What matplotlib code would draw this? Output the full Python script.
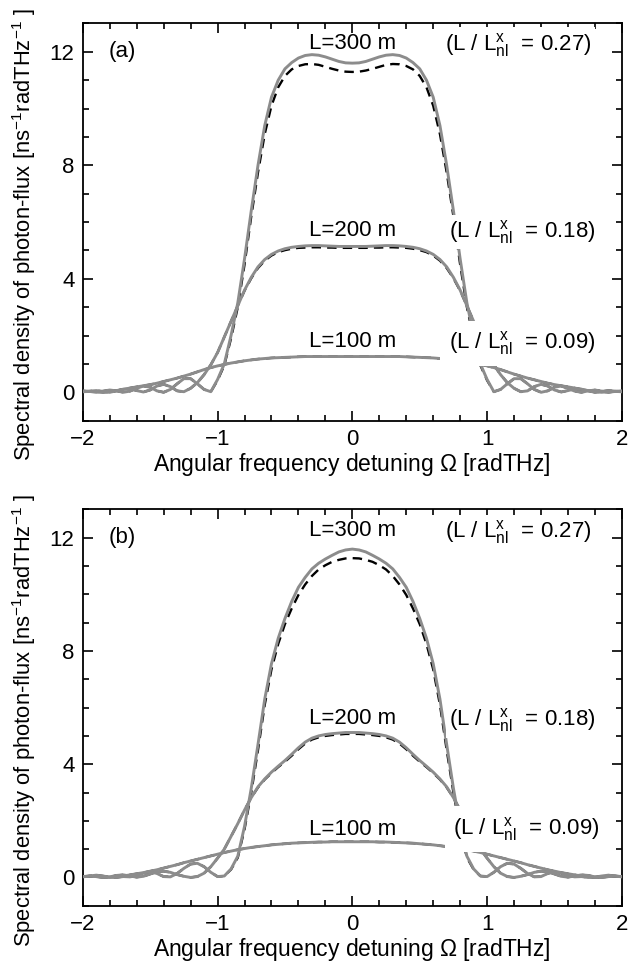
import numpy as np
import matplotlib.pyplot as plt
from matplotlib.ticker import MultipleLocator

plt.rcParams['font.family'] = ['Liberation Sans', 'DejaVu Sans']
plt.rcParams['mathtext.default'] = 'regular'

# angular frequency detuning grid [radTHz], step 0.05
omega = np.round(np.linspace(-2.0, 2.0, 81), 2)

# ---- panel (a) ----
a_300 = [0.05, 0.03, 0.00, 0.04, 0.08, 0.05, 0.00, 0.04, 0.14, 0.22,
         0.18, 0.05, 0.00, 0.10, 0.30, 0.48, 0.48, 0.30, 0.10, 0.02,
         0.45, 1.00, 2.00, 3.15, 4.70, 6.40, 8.00, 9.40, 10.40, 11.00,
         11.40, 11.62, 11.78, 11.87, 11.90, 11.88, 11.82, 11.74, 11.66, 11.61,
         11.60,
         11.61, 11.66, 11.74, 11.82, 11.88, 11.90, 11.87, 11.78, 11.62, 11.40,
         11.00, 10.40, 9.40, 8.00, 6.40, 4.70, 3.15, 2.00, 1.00, 0.45,
         0.02, 0.10, 0.30, 0.48, 0.48, 0.30, 0.10, 0.00, 0.05, 0.18,
         0.22, 0.14, 0.04, 0.00, 0.05, 0.08, 0.04, 0.00, 0.03, 0.05]
a_300_dash = [0.05, 0.03, 0.00, 0.04, 0.08, 0.05, 0.00, 0.04, 0.14, 0.22,
              0.18, 0.05, 0.00, 0.10, 0.30, 0.48, 0.48, 0.30, 0.10, 0.02,
              0.42, 0.95, 1.90, 3.00, 4.50, 6.20, 7.75, 9.10, 10.10, 10.75,
              11.15, 11.38, 11.50, 11.56, 11.57, 11.54, 11.47, 11.40, 11.34, 11.30,
              11.29,
              11.30, 11.34, 11.40, 11.47, 11.54, 11.57, 11.56, 11.50, 11.38, 11.15,
              10.75, 10.10, 9.10, 7.75, 6.20, 4.50, 3.00, 1.90, 0.95, 0.42,
              0.02, 0.10, 0.30, 0.48, 0.48, 0.30, 0.10, 0.00, 0.05, 0.18,
              0.22, 0.14, 0.04, 0.00, 0.05, 0.08, 0.04, 0.00, 0.03, 0.05]
a_200 = [0.02, 0.04, 0.06, 0.03, 0.00, 0.05, 0.11, 0.12, 0.06, 0.01,
         0.08, 0.22, 0.28, 0.20, 0.05, 0.02, 0.14, 0.34, 0.62, 0.97,
         1.40, 1.95, 2.50, 3.05, 3.60, 4.05, 4.42, 4.68, 4.86, 4.98,
         5.06, 5.11, 5.14, 5.16, 5.17, 5.17, 5.16, 5.15, 5.14, 5.14,
         5.14,
         5.14, 5.14, 5.15, 5.16, 5.17, 5.17, 5.16, 5.14, 5.11, 5.06,
         4.98, 4.86, 4.68, 4.42, 4.05, 3.60, 3.05, 2.50, 1.95, 1.40,
         0.97, 0.62, 0.34, 0.14, 0.02, 0.05, 0.20, 0.28, 0.22, 0.08,
         0.01, 0.06, 0.12, 0.11, 0.05, 0.00, 0.03, 0.06, 0.04, 0.02]
a_200_dash = [0.02, 0.04, 0.06, 0.03, 0.00, 0.05, 0.11, 0.12, 0.06, 0.01,
              0.08, 0.22, 0.28, 0.20, 0.05, 0.02, 0.14, 0.34, 0.62, 0.97,
              1.40, 1.95, 2.50, 3.05, 3.58, 4.02, 4.38, 4.64, 4.82, 4.94,
              5.01, 5.06, 5.09, 5.10, 5.11, 5.11, 5.10, 5.10, 5.09, 5.09,
              5.09,
              5.09, 5.09, 5.10, 5.10, 5.11, 5.11, 5.10, 5.09, 5.06, 5.01,
              4.94, 4.82, 4.64, 4.38, 4.02, 3.58, 3.05, 2.50, 1.95, 1.40,
              0.97, 0.62, 0.34, 0.14, 0.02, 0.05, 0.20, 0.28, 0.22, 0.08,
              0.01, 0.06, 0.12, 0.11, 0.05, 0.00, 0.03, 0.06, 0.04, 0.02]
a_100 = [0.02, 0.03, 0.02, 0.00, 0.02, 0.06, 0.10, 0.15, 0.19, 0.23,
         0.27, 0.32, 0.38, 0.44, 0.50, 0.57, 0.64, 0.72, 0.80, 0.87,
         0.93, 0.98, 1.03, 1.07, 1.11, 1.14, 1.17, 1.19, 1.21, 1.22,
         1.23, 1.24, 1.25, 1.26, 1.26, 1.26, 1.26, 1.26, 1.26, 1.26,
         1.26,
         1.26, 1.26, 1.26, 1.26, 1.26, 1.26, 1.26, 1.25, 1.24, 1.23,
         1.22, 1.21, 1.19, 1.17, 1.14, 1.11, 1.07, 1.03, 0.98, 0.93,
         0.87, 0.80, 0.72, 0.64, 0.57, 0.50, 0.44, 0.38, 0.32, 0.27,
         0.23, 0.19, 0.15, 0.10, 0.06, 0.02, 0.00, 0.02, 0.03, 0.02]

# ---- panel (b) ----
b_300 = [0.02, 0.05, 0.08, 0.05, 0.01, 0.00, 0.03, 0.02, 0.06, 0.15,
         0.20, 0.14, 0.03, 0.02, 0.14, 0.32, 0.47, 0.50, 0.38, 0.18,
         0.03, 0.05, 0.30, 0.75, 1.80, 3.15, 4.70, 6.30, 7.55, 8.45,
         9.15, 9.75, 10.25, 10.60, 10.90, 11.10, 11.25, 11.38, 11.50, 11.57,
         11.60,
         11.57, 11.50, 11.38, 11.25, 11.10, 10.90, 10.60, 10.25, 9.75, 9.15,
         8.45, 7.55, 6.30, 4.70, 3.15, 1.80, 0.75, 0.30, 0.05, 0.03,
         0.18, 0.38, 0.50, 0.47, 0.32, 0.14, 0.02, 0.03, 0.14, 0.20,
         0.15, 0.06, 0.02, 0.03, 0.00, 0.01, 0.05, 0.08, 0.05, 0.02]
b_300_dash = [0.02, 0.05, 0.08, 0.05, 0.01, 0.00, 0.03, 0.02, 0.06, 0.15,
              0.20, 0.14, 0.03, 0.02, 0.14, 0.32, 0.47, 0.50, 0.38, 0.18,
              0.03, 0.05, 0.28, 0.70, 1.70, 3.00, 4.50, 6.10, 7.35, 8.25,
              8.95, 9.50, 9.98, 10.35, 10.65, 10.88, 11.03, 11.15, 11.22, 11.27,
              11.28,
              11.27, 11.22, 11.15, 11.03, 10.88, 10.65, 10.35, 9.98, 9.50, 8.95,
              8.25, 7.35, 6.10, 4.50, 3.00, 1.70, 0.70, 0.28, 0.05, 0.03,
              0.18, 0.38, 0.50, 0.47, 0.32, 0.14, 0.02, 0.03, 0.14, 0.20,
              0.15, 0.06, 0.02, 0.03, 0.00, 0.01, 0.05, 0.08, 0.05, 0.02]
b_200 = [0.03, 0.05, 0.03, 0.00, 0.02, 0.07, 0.09, 0.05, 0.01, 0.04,
         0.12, 0.20, 0.22, 0.18, 0.10, 0.04, 0.00, 0.03, 0.15, 0.38,
         0.68, 1.00, 1.45, 1.90, 2.38, 2.82, 3.20, 3.48, 3.72, 3.93,
         4.13, 4.35, 4.58, 4.78, 4.92, 5.00, 5.05, 5.08, 5.10, 5.12,
         5.12,
         5.12, 5.10, 5.08, 5.05, 5.00, 4.92, 4.78, 4.58, 4.35, 4.13,
         3.93, 3.72, 3.48, 3.20, 2.82, 2.38, 1.90, 1.45, 1.00, 0.68,
         0.38, 0.15, 0.03, 0.00, 0.04, 0.10, 0.18, 0.22, 0.20, 0.12,
         0.04, 0.01, 0.05, 0.09, 0.07, 0.02, 0.00, 0.03, 0.05, 0.03]
b_200_dash = [0.03, 0.05, 0.03, 0.00, 0.02, 0.07, 0.09, 0.05, 0.01, 0.04,
              0.12, 0.20, 0.22, 0.18, 0.10, 0.04, 0.00, 0.03, 0.15, 0.38,
              0.68, 1.00, 1.45, 1.90, 2.38, 2.82, 3.18, 3.46, 3.69, 3.90,
              4.09, 4.30, 4.53, 4.73, 4.87, 4.95, 5.00, 5.03, 5.05, 5.07,
              5.07,
              5.07, 5.05, 5.03, 5.00, 4.95, 4.87, 4.73, 4.53, 4.30, 4.09,
              3.90, 3.69, 3.46, 3.18, 2.82, 2.38, 1.90, 1.45, 1.00, 0.68,
              0.38, 0.15, 0.03, 0.00, 0.04, 0.10, 0.18, 0.22, 0.20, 0.12,
              0.04, 0.01, 0.05, 0.09, 0.07, 0.02, 0.00, 0.03, 0.05, 0.03]
b_100 = [0.03, 0.04, 0.03, 0.01, 0.00, 0.02, 0.05, 0.09, 0.13, 0.17,
         0.22, 0.27, 0.33, 0.39, 0.45, 0.52, 0.58, 0.64, 0.70, 0.76,
         0.82, 0.88, 0.93, 0.98, 1.02, 1.06, 1.09, 1.12, 1.15, 1.17,
         1.19, 1.21, 1.22, 1.23, 1.24, 1.25, 1.25, 1.26, 1.26, 1.26,
         1.26,
         1.26, 1.26, 1.26, 1.25, 1.25, 1.24, 1.23, 1.22, 1.21, 1.19,
         1.17, 1.15, 1.12, 1.09, 1.06, 1.02, 0.98, 0.93, 0.88, 0.82,
         0.76, 0.70, 0.64, 0.58, 0.52, 0.45, 0.39, 0.33, 0.27, 0.22,
         0.17, 0.13, 0.09, 0.05, 0.02, 0.00, 0.01, 0.03, 0.04, 0.03]

panel_tags = ['(a)', '(b)']
length_labels = ['L=300 m', 'L=200 m', 'L=100 m']
ratio_values = ['0.27', '0.18', '0.09']

panels = [
    {'solid': [a_300, a_200, a_100], 'dash': [a_300_dash, a_200_dash, a_100],
     'len_y': [12.3, 5.7, 1.8], 'ratio_y': [12.25, 5.65, 1.72],
     'ratio_x': [0.69, 0.72, 0.72]},
    {'solid': [b_300, b_200, b_100], 'dash': [b_300_dash, b_200_dash, b_100],
     'len_y': [12.25, 5.6, 1.7], 'ratio_y': [12.2, 5.55, 1.72],
     'ratio_x': [0.69, 0.72, 0.75]},
]
# white box padding behind each ratio label (fraction of font size)
ratio_pads = [0.15, 0.15, 0.4]

gray = '#8c8c8c'
fs = 16
fig = plt.figure(figsize=(6.32, 9.76), dpi=100)
ax_rects = [[0.131, 0.569, 0.853, 0.407], [0.131, 0.072, 0.853, 0.406]]

for rect, tag, p in zip(ax_rects, panel_tags, panels):
    ax = fig.add_axes(rect)
    for y_dash in p['dash']:
        ax.plot(omega, y_dash, color='black', lw=1.7, ls=(0, (4, 2.6)), zorder=2)
    for y_solid in p['solid']:
        ax.plot(omega, y_solid, color=gray, lw=2.1, zorder=3)

    ax.text(-1.81, 12.0, tag, fontsize=fs, ha='left', va='center')
    for lab, ly in zip(length_labels, p['len_y']):
        ax.text(0.0, ly, lab, fontsize=fs, ha='center', va='center', zorder=5)
    for val, rx, ry, pad in zip(ratio_values, p['ratio_x'], p['ratio_y'], ratio_pads):
        ax.text(rx, ry, r'(L / L$_{nl}^{x}$  = ' + val + ')', fontsize=fs,
                ha='left', va='center', zorder=5,
                bbox=dict(boxstyle='square,pad=%.2f' % pad, facecolor='white',
                          edgecolor='none'))

    ax.set_xlim(-2, 2)
    ax.set_ylim(-1, 13)
    ax.xaxis.set_major_locator(MultipleLocator(1))
    ax.xaxis.set_minor_locator(MultipleLocator(0.2))
    ax.yaxis.set_major_locator(MultipleLocator(4))
    ax.yaxis.set_minor_locator(MultipleLocator(1))
    ax.tick_params(which='both', direction='in', top=True, right=True,
                   labelsize=fs, width=1.2)
    ax.tick_params(which='major', length=7, pad=6)
    ax.tick_params(which='minor', length=4)
    for s in ax.spines.values():
        s.set_linewidth(1.3)
    ax.set_xlabel(r'Angular frequency detuning $\Omega$ [radTHz]', fontsize=16.5,
                  labelpad=1)
    ax.set_ylabel(r'Spectral density of photon-flux [ns$^{-1}$radTHz$^{-1}$ ]',
                  fontsize=15.8)
    ax.yaxis.set_label_coords(-0.083, 0.468)

fig.savefig('out.png', dpi=100)
